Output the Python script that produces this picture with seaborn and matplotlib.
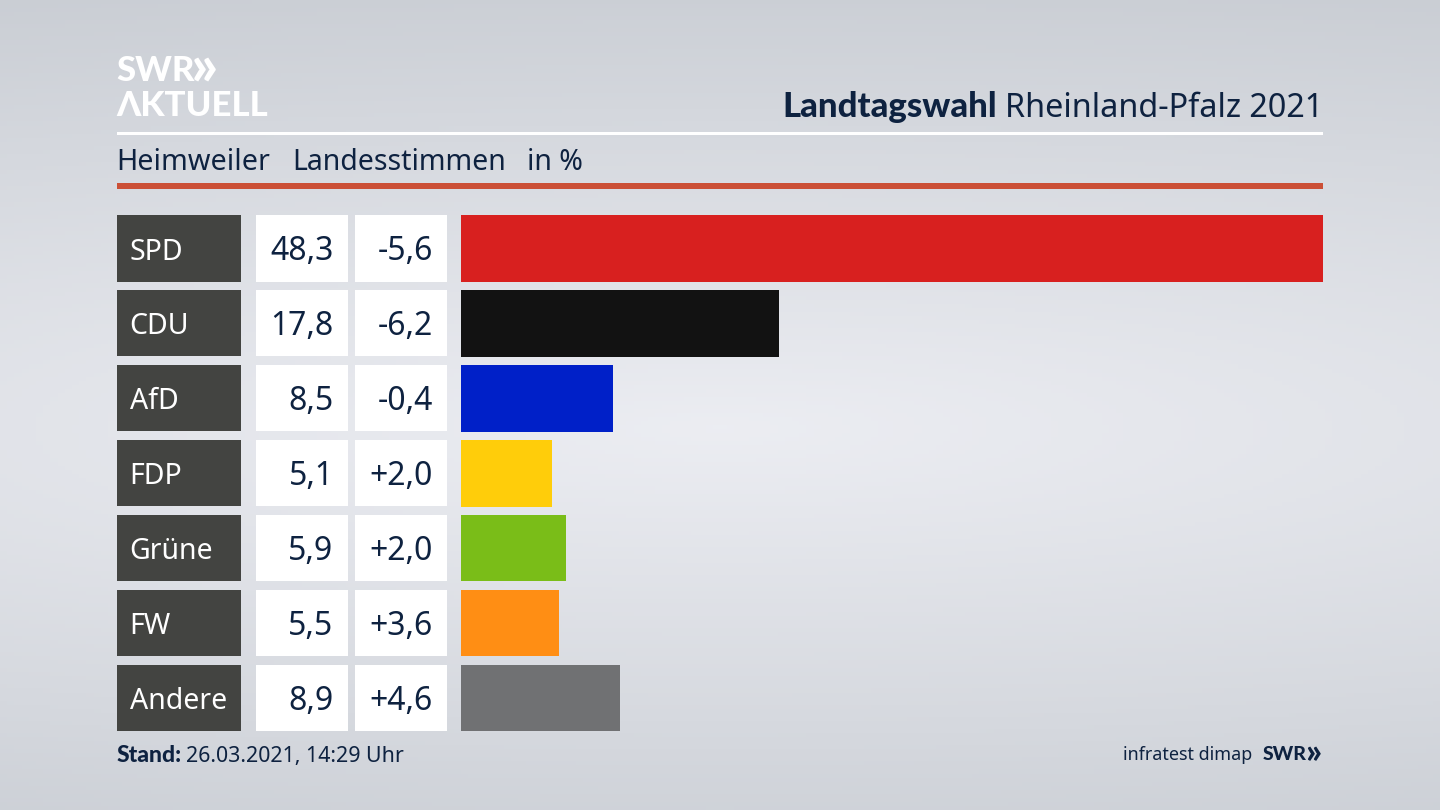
import numpy as np
import pandas as pd
import seaborn as sns
import matplotlib.pyplot as plt
from matplotlib.patches import Rectangle

parties = ['SPD', 'CDU', 'AfD', 'FDP', 'Grüne', 'FW', 'Andere']
shares = [48.3, 17.8, 8.5, 5.1, 5.9, 5.5, 8.9]
share_labels = ['48,3', '17,8', '8,5', '5,1', '5,9', '5,5', '8,9']
diff_labels = ['-5,6', '-6,2', '-0,4', '+2,0', '+2,0', '+3,6', '+4,6']
colors = ['#d8201f', '#121212', '#0020c8', '#ffcd0a', '#7abd18', '#ff8e14', '#707173']

W, H = 1440, 810
NAVY = '#0e2240'
FONT = 'Noto Sans'
BOLD = 'Lato'

plt.rcParams['font.family'] = [FONT, 'DejaVu Sans']

def fx(px):
    return px / W

def fy(py):
    return 1 - py / H

def ftext(x, y, s, size, color=NAVY, bold=False, ha='left'):
    if bold:
        return fig.text(fx(x), fy(y), s, fontsize=size, color=color, fontweight='black',
                        family=BOLD, ha=ha, va='baseline')
    return fig.text(fx(x), fy(y), s, fontsize=size, color=color, ha=ha, va='baseline')

def fbox(x0, y0, x1, y1, color):
    fig.add_artist(Rectangle((fx(x0), fy(y1)), (x1 - x0) / W, (y1 - y0) / H,
                             transform=fig.transFigure, color=color, lw=0))

fig = plt.figure(figsize=(14.4, 8.1), dpi=100)

# hintergrund: hell in der mitte, grau nach oben und unten
bg = fig.add_axes([0, 0, 1, 1], zorder=-1)
yy, xx = np.mgrid[0:1:200j, 0:1:200j]
dist = np.sqrt(((yy - 0.53) / 0.55) ** 2 + ((xx - 0.5) / 1.6) ** 2)
shade = np.clip(dist, 0, 1)[..., None]
light = np.array([0.925, 0.93, 0.95])
dark = np.array([0.795, 0.81, 0.835])
bg.imshow(light + (dark - light) * shade, aspect='auto', extent=[0, 1, 1, 0])
bg.axis('off')

# balken
df = pd.DataFrame({'partei': parties, 'anteil': shares})
pitch = 74.93
top = 248.5 - pitch / 2
ax = fig.add_axes([fx(461), fy(top + 7 * pitch), (1323 - 461) / W, 7 * pitch / H])
sns.barplot(data=df, x='anteil', y='partei', hue='partei', palette=colors, legend=False,
            width=0.887, saturation=1, ax=ax)
ax.set_xlim(0, max(shares))
ax.set_ylim(6.5, -0.5)
ax.axis('off')

# tabelle links
for i, party in enumerate(parties):
    y0 = 215 + i * pitch
    y1 = y0 + 66.5
    base = y0 + 45.5
    fbox(117, y0, 241, y1, '#434441')
    fbox(256, y0, 348, y1, '#ffffff')
    fbox(355, y0, 447, y1, '#ffffff')
    ftext(129.5, base - 1, party, 20.5, color='white')
    ftext(333.5, base, share_labels[i], 23, ha='right')
    ftext(433, base, diff_labels[i], 23, ha='right')

# kopf
fbox(117, 132, 1323, 135, '#ffffff')
fbox(117, 183, 1323, 189, '#cb4f36')
ftext(116, 81, 'SWR', 25, color='white', bold=True)
ftext(191, 85, '»', 42, color='white', bold=True)
ftext(116, 116, 'ΛKTUELL', 25, color='white', bold=True)

title = ftext(1323, 117, 'Rheinland-Pfalz 2021', 23.3, ha='right')
fig.canvas.draw()
bb = title.get_window_extent()
ftext(bb.x0 - 8, 117, 'Landtagswahl', 25, bold=True, ha='right')

ftext(116, 170, 'Heimweiler', 20.7)
ftext(292, 170, 'Landesstimmen', 20.5)
ftext(527, 170, 'in %', 20.5)

# fuss
ftext(117, 762, 'Stand:', 16.5, bold=True)
ftext(186, 762, '26.03.2021, 14:29 Uhr', 15.4)
ftext(1252, 760, 'infratest dimap', 12.9, ha='right')
ftext(1263, 760, 'SWR', 14, bold=True)
ftext(1305, 763, '»', 25, bold=True)

fig.savefig('out.png', dpi=100)
